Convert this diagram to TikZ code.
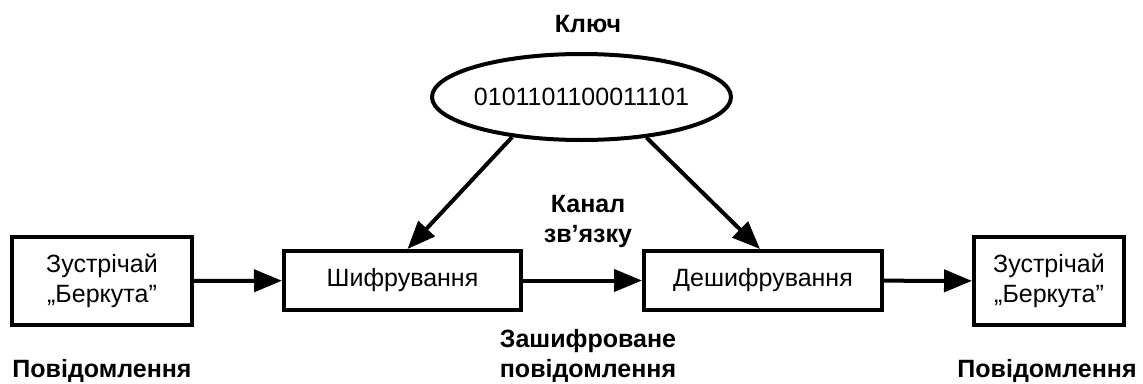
\documentclass[tikz,border=0pt]{standalone}
\usepackage{fontspec}
\setmainfont{Liberation Sans}
\usetikzlibrary{arrows.meta,shapes.geometric}

\begin{document}
\begin{tikzpicture}[x=1pt,y=-1pt,
  every node/.style={font=\fontsize{25}{30}\selectfont},
  box/.style={draw,line width=4pt,inner sep=0pt,align=center},
  lbl/.style={font=\fontsize{25}{30}\selectfont\bfseries,align=center,inner sep=0pt},
  flow/.style={line width=4pt,-{Triangle[length=28pt,width=22pt]}}
]
\useasboundingbox (0,0) rectangle (1143,383);

% the key
\node[lbl,anchor=base] (keylbl) at (588,32) {Ключ};
\node[draw,ellipse,line width=4pt,inner sep=0pt,minimum width=299pt,minimum height=86pt]
  (key) at (581.5,97) {\raisebox{-2pt}{\makebox[0pt][c]{0101101100011101}}};

% message path
\node[box,minimum width=180pt,minimum height=88pt] (src) at (102,281) {Зустрічай\\„Беркута”};
\node[box,minimum width=237pt,minimum height=59pt] (enc) at (402.5,280.5) {Шифрування};
\node[box,minimum width=238pt,minimum height=59pt] (dec) at (763,280.5) {Дешифрування};
\node[box,minimum width=150pt,minimum height=88pt] (dst) at (1049,281) {Зустрічай\\„Беркута”};

\draw[flow] (src) -- (enc);
\draw[flow] (enc) -- (dec);
\draw[flow] (dec) -- (dst);

\coordinate (encin) at ([xshift=5pt]enc.north);
\coordinate (decin) at ([xshift=-3pt]dec.north);
\draw[flow] (key.210) -- (encin);
\draw[flow] (key.328) -- (decin);

% labels
\node[lbl] (chan) at (588,221) {Канал\\зв’язку};
\node[lbl] (cipher) at (588,356) {Зашифроване\\повідомлення};
\node[lbl,anchor=base] (msgl) at (102,377) {Повідомлення};
\node[lbl,anchor=base] (msgr) at (1047,377) {Повідомлення};
\end{tikzpicture}
\end{document}
